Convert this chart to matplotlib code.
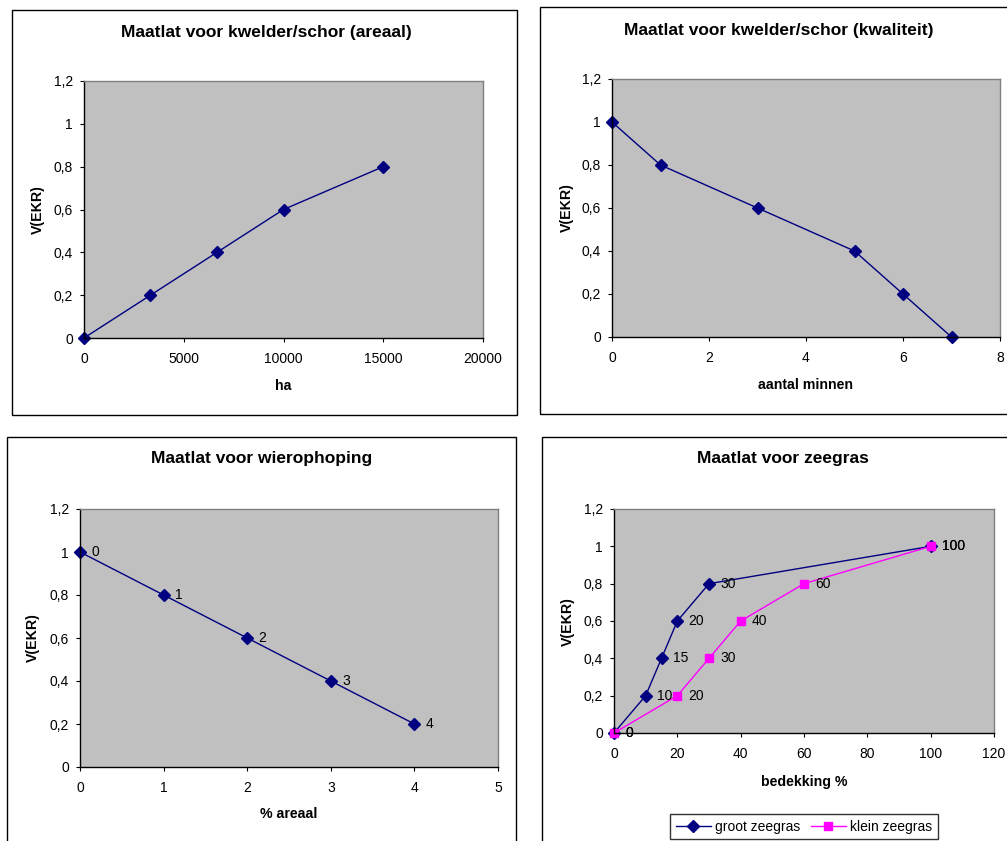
import matplotlib
matplotlib.use("Agg")
import matplotlib.pyplot as plt
from matplotlib.patches import Rectangle

plt.rcParams['font.family'] = ['Liberation Sans', 'DejaVu Sans']

W, H = 1007, 841

# ---- data ----
areaal_ha = [0, 3333, 6667, 10000, 15000]
areaal_ekr = [0, 0.2, 0.4, 0.6, 0.8]

kwal_minnen = [0, 1, 3, 5, 6, 7]
kwal_ekr = [1, 0.8, 0.6, 0.4, 0.2, 0]

wier_pct = [0, 1, 2, 3, 4]
wier_ekr = [1, 0.8, 0.6, 0.4, 0.2]
wier_labels = ["0", "1", "2", "3", "4"]

groot_x = [0, 10, 15, 20, 30, 100]
groot_y = [0, 0.2, 0.4, 0.6, 0.8, 1]
groot_labels = ["0", "10", "15", "20", "30", "100"]
klein_x = [0, 20, 30, 40, 60, 100]
klein_y = [0, 0.2, 0.4, 0.6, 0.8, 1]
klein_labels = ["0", "20", "30", "40", "60", "100"]

y_ticks = [0, 0.2, 0.4, 0.6, 0.8, 1.0, 1.2]
y_ticklabels = ["0", "0,2", "0,4", "0,6", "0,8", "1", "1,2"]

titles = ["Maatlat voor kwelder/schor (areaal)",
          "Maatlat voor kwelder/schor (kwaliteit)",
          "Maatlat voor wierophoping",
          "Maatlat voor zeegras"]
xlabels = ["ha", "aantal minnen", "% areaal", "bedekking %"]
ylabel = "V(EKR)"

NAVY = "#000080"
PINK = "#FF00FF"
GRAY = "#C0C0C0"
MS = 5.8

fig = plt.figure(figsize=(W / 100, H / 100), dpi=100)
fig.patch.set_facecolor("white")


def fx(x):
    return x / W


def fy(y):
    return 1 - y / H


def border(x0, y0, x1, y1):
    fig.add_artist(Rectangle((fx(x0), fy(y1)), fx(x1 - x0), (y1 - y0) / H,
                             transform=fig.transFigure, fill=False,
                             edgecolor="black", linewidth=1.0, clip_on=False))


def make_ax(l, r, t, b, xlim, xticks):
    ax = fig.add_axes([fx(l), fy(b), fx(r - l), (b - t) / H])
    ax.set_facecolor(GRAY)
    ax.set_xlim(*xlim)
    ax.set_ylim(0, 1.2)
    ax.set_xticks(xticks)
    ax.set_xticklabels([str(v) for v in xticks])
    ax.set_yticks(y_ticks)
    ax.set_yticklabels(y_ticklabels)
    for s in ["top", "right"]:
        ax.spines[s].set_color("#808080")
        ax.spines[s].set_linewidth(1.0)
    for s in ["left", "bottom"]:
        ax.spines[s].set_color("black")
        ax.spines[s].set_linewidth(1.0)
    ax.tick_params(axis="both", direction="out", length=3, width=0.8,
                   labelsize=10, colors="black")
    ax.tick_params(axis="x", pad=7)
    ax.tick_params(axis="y", pad=5)
    for lab in ax.get_xticklabels() + ax.get_yticklabels():
        lab.set_clip_on(False)
    return ax


def texts(title, tx, ty, xl, xlx, xly, ylx, yly):
    fig.text(fx(tx), fy(ty), title, ha="center", va="center",
             fontsize=12.5, fontweight="bold")
    fig.text(fx(xlx), fy(xly), xl, ha="center", va="center",
             fontsize=10.2, fontweight="bold")
    fig.text(fx(ylx), fy(yly), ylabel, ha="center", va="center",
             fontsize=10.2, fontweight="bold", rotation=90)


# borders
border(12, 10, 517, 415)
border(540, 7, 1012, 414)
border(7, 437, 516, 850)
border(542, 437, 1012, 850)

# panel 1
ax1 = make_ax(84, 483, 81, 338, (0, 20000), [0, 5000, 10000, 15000, 20000])
ax1.plot(areaal_ha, areaal_ekr, color=NAVY, lw=1.0, marker="D", ms=MS,
         mfc=NAVY, mec=NAVY, clip_on=False)
texts(titles[0], 266, 32, xlabels[0], 283, 386, 38, 210)

# panel 2
ax2 = make_ax(612, 1000, 79, 337, (0, 8), [0, 2, 4, 6, 8])
ax2.plot(kwal_minnen, kwal_ekr, color=NAVY, lw=1.0, marker="D", ms=MS,
         mfc=NAVY, mec=NAVY, clip_on=False)
texts(titles[1], 779, 30, xlabels[1], 806, 385, 567, 208)

# panel 3
ax3 = make_ax(80, 498, 509, 767, (0, 5), [0, 1, 2, 3, 4, 5])
ax3.plot(wier_pct, wier_ekr, color=NAVY, lw=1.0, marker="D", ms=MS,
         mfc=NAVY, mec=NAVY, clip_on=False)
for x, y, s in zip(wier_pct, wier_ekr, wier_labels):
    ax3.annotate(s, (x, y), xytext=(8, 0), textcoords="offset points",
                 ha="left", va="center", fontsize=10)
texts(titles[2], 262, 458, xlabels[2], 289, 814, 33, 638)

# panel 4
ax4 = make_ax(614, 994, 509, 733, (0, 120), [0, 20, 40, 60, 80, 100, 120])
l1, = ax4.plot(groot_x, groot_y, color=NAVY, lw=1.0, marker="D", ms=MS,
               mfc=NAVY, mec=NAVY, clip_on=False, label="groot zeegras")
l2, = ax4.plot(klein_x, klein_y, color=PINK, lw=1.0, marker="s", ms=MS - 0.5,
               mfc=PINK, mec=PINK, clip_on=False, label="klein zeegras")
for x, y, s in zip(groot_x, groot_y, groot_labels):
    ax4.annotate(s, (x, y), xytext=(8, 0), textcoords="offset points",
                 ha="left", va="center", fontsize=10)
for x, y, s in zip(klein_x, klein_y, klein_labels):
    ax4.annotate(s, (x, y), xytext=(8, 0), textcoords="offset points",
                 ha="left", va="center", fontsize=10)
texts(titles[3], 783, 458, xlabels[3], 804, 782, 568, 622)

leg = fig.legend(handles=[l1, l2], loc="center",
                 bbox_to_anchor=(fx((670 + 938) / 2), fy((813 + 840) / 2)),
                 ncol=2, frameon=True, fancybox=False, fontsize=10,
                 handlelength=2.5, handletextpad=0.3, columnspacing=0.8,
                 borderpad=0.4, borderaxespad=0)
leg.get_frame().set_edgecolor("black")
leg.get_frame().set_linewidth(1.0)

fig.savefig("out.png", dpi=100)
